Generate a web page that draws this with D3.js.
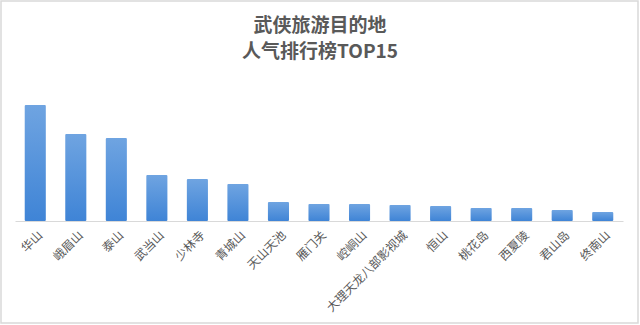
<!DOCTYPE html>
<html>
<head>
<meta charset="utf-8">
<script src="https://cdn.jsdelivr.net/npm/d3@7/dist/d3.min.js"></script>
<style>
  body { margin: 0; background: #fff; }
  text { font-family: "Noto Sans CJK SC", "Noto Sans", sans-serif; }
</style>
</head>
<body>
<div id="chart"></div>
<script>
// popularity index (no value axis in the original)
var places = ["华山", "峨眉山", "泰山", "武当山", "少林寺", "青城山", "天山天池", "雁门关",
  "崆峒山", "大理天龙八部影视城", "恒山", "桃花岛", "西夏陵", "君山岛", "终南山"];
var scores = [116, 87, 83, 46, 42, 37, 19, 17, 17, 16, 15, 13, 13, 11, 9];
var titleLines = ["武侠旅游目的地", "人气排行榜TOP15"];

var width = 640, height = 325;

var svg = d3.select("#chart")
  .append("svg")
  .attr("width", width)
  .attr("height", height);

// bar fill gradient, lighter on top
var grad = svg.append("defs").append("linearGradient")
  .attr("id", "barfill")
  .attr("x1", 0).attr("y1", 0).attr("x2", 0).attr("y2", 1);
grad.append("stop").attr("offset", "0%").attr("stop-color", "#6fa4e1");
grad.append("stop").attr("offset", "100%").attr("stop-color", "#3f84d6");

// outer frame
svg.append("rect")
  .attr("x", 1).attr("y", 1)
  .attr("width", width - 3).attr("height", height - 3)
  .attr("fill", "#fff")
  .attr("stroke", "#d9d9d9")
  .attr("stroke-width", 1.5);

var x = d3.scaleBand()
  .domain(places)
  .range([15, 623])
  .paddingInner(0.48)
  .paddingOuter(0.24);

var y = d3.scaleLinear()
  .domain([0, d3.max(scores)])
  .range([221, 105]);

// title
svg.append("g").selectAll("text")
  .data(titleLines)
  .enter()
  .append("text")
  .attr("x", width / 2)
  .attr("y", function(d, i) { return 32 + i * 26; })
  .attr("text-anchor", "middle")
  .style("font-size", "19px")
  .style("font-weight", "bold")
  .style("fill", "#595959")
  .text(function(d) { return d; });

// bars
svg.append("g").selectAll("rect")
  .data(places)
  .enter()
  .append("rect")
  .attr("x", function(d) { return x(d); })
  .attr("y", function(d, i) { return y(scores[i]); })
  .attr("width", x.bandwidth())
  .attr("height", function(d, i) { return y(0) - y(scores[i]); })
  .attr("rx", 1)
  .attr("fill", "url(#barfill)");

// category axis
var axis = svg.append("g")
  .attr("transform", "translate(0," + y(0) + ")")
  .call(d3.axisBottom(x).tickSize(0).tickPadding(0));

axis.select(".domain").attr("stroke", "#d9d9d9").attr("stroke-width", 1);

axis.selectAll(".tick text")
  .attr("text-anchor", "end")
  .attr("dy", 0)
  .attr("transform", "translate(8,15) rotate(-45)")
  .style("font-size", "12px")
  .style("fill", "#595959");
</script>
</body>
</html>
